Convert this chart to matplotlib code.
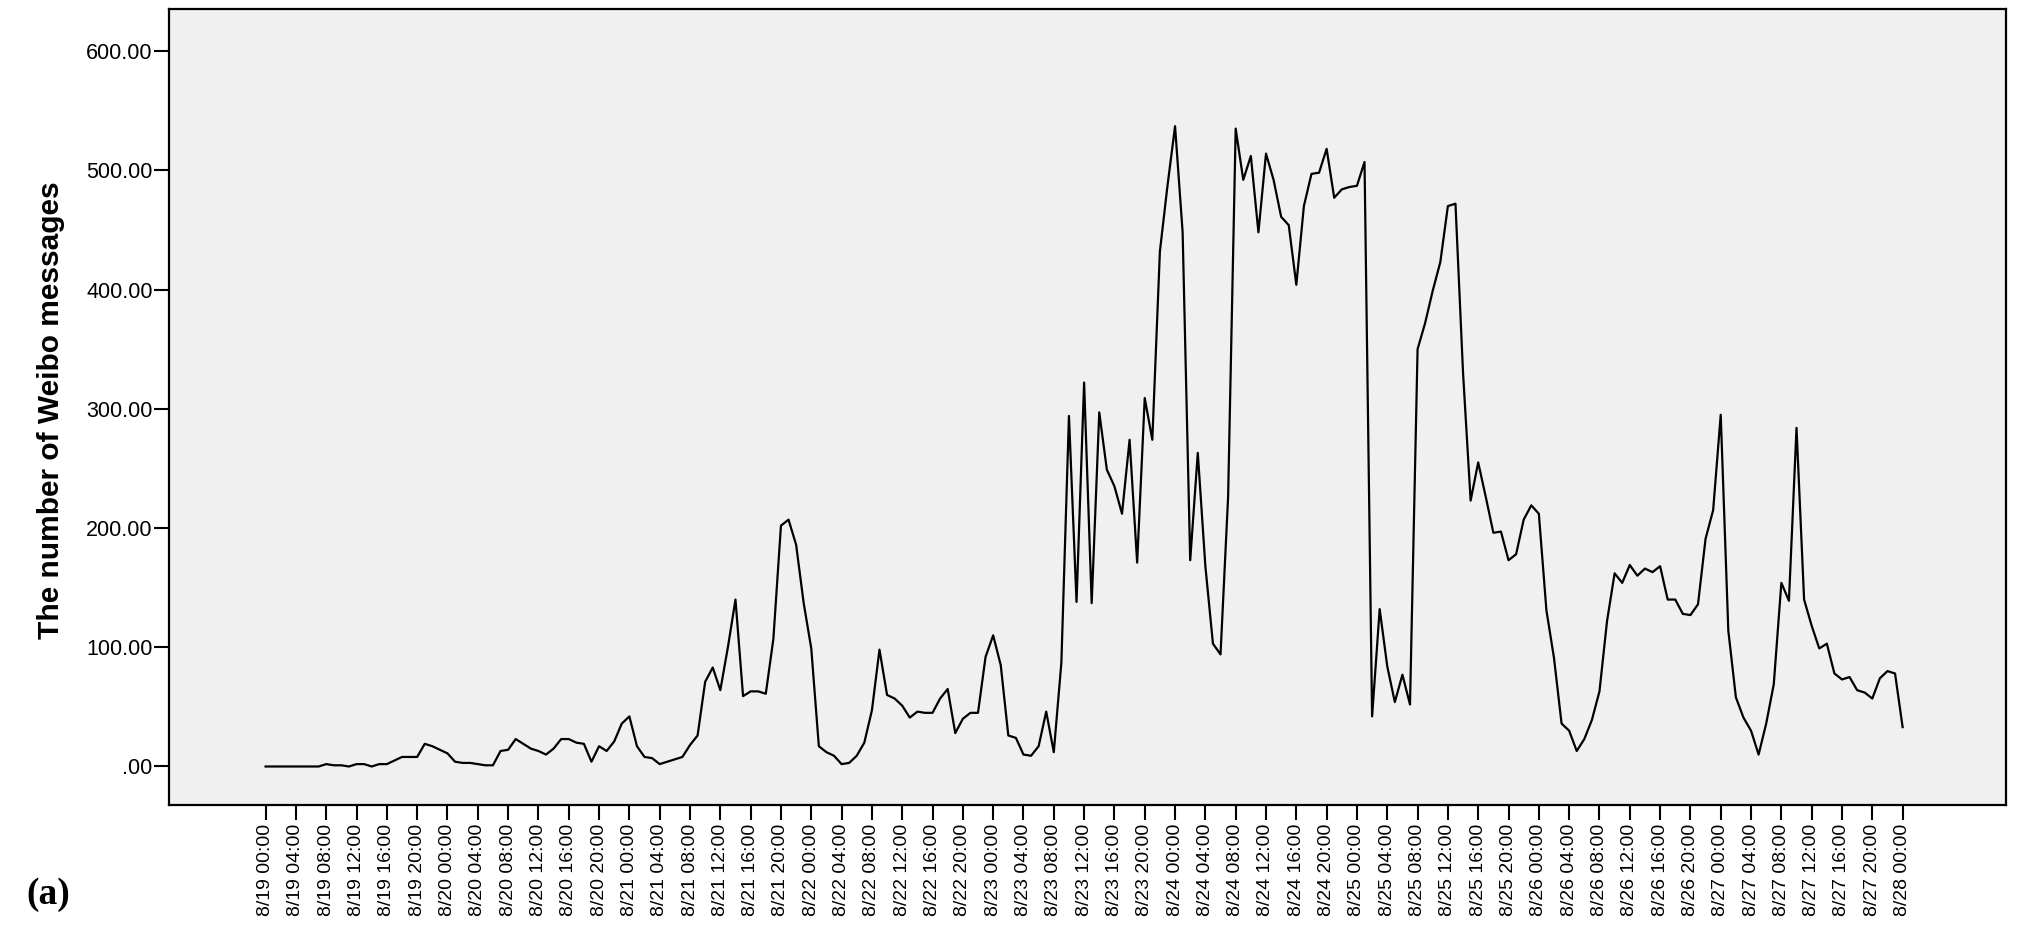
import numpy as np
import matplotlib
matplotlib.use('Agg')
import matplotlib.pyplot as plt

# hourly Weibo message counts, one list per day (00:00 .. 23:00)
aug19 = [0, 0, 0, 0, 0, 0, 0, 0, 2, 1, 1, 0, 2, 2, 0, 2, 2, 5, 8, 8, 8, 19, 17, 14]
aug20 = [11, 4, 3, 3, 2, 1, 1, 13, 14, 23, 19, 15, 13, 10, 15, 23, 23, 20, 19, 4, 17, 13, 21, 36]
aug21 = [42, 17, 8, 7, 2, 4, 6, 8, 18, 26, 71, 83, 64, 100, 140, 59, 63, 63, 61, 107, 202, 207, 186, 137]
aug22 = [99, 17, 12, 9, 2, 3, 9, 20, 47, 98, 60, 57, 51, 41, 46, 45, 45, 57, 65, 28, 40, 45, 45, 92]
aug23 = [110, 85, 26, 24, 10, 9, 17, 46, 12, 87, 294, 138, 322, 137, 297, 249, 235, 212, 274, 171, 309, 274, 432, 487]
aug24 = [537, 448, 173, 263, 168, 103, 94, 226, 535, 492, 512, 448, 514, 492, 461, 454, 404, 470, 497, 498, 518, 477, 484, 486]
aug25 = [487, 507, 42, 132, 84, 54, 77, 52, 350, 372, 399, 423, 470, 472, 330, 223, 255, 226, 196, 197, 173, 178, 207, 219]
aug26 = [212, 131, 91, 36, 30, 13, 23, 39, 63, 122, 162, 154, 169, 160, 166, 163, 168, 140, 140, 128, 127, 136, 191, 215]
aug27 = [295, 114, 58, 41, 30, 10, 36, 69, 154, 139, 284, 140, 118, 99, 103, 78, 73, 75, 64, 62, 57, 74, 80, 78]
aug28 = [33]

days = ['8/19', '8/20', '8/21', '8/22', '8/23', '8/24', '8/25', '8/26', '8/27', '8/28']
tick_hours = ['00:00', '04:00', '08:00', '12:00', '16:00', '20:00']
y_ticks = [0, 100, 200, 300, 400, 500, 600]
y_ticklabels = ['.00', '100.00', '200.00', '300.00', '400.00', '500.00', '600.00']

counts = np.array(aug19 + aug20 + aug21 + aug22 + aug23 + aug24 + aug25 + aug26 + aug27 + aug28)
hours = np.arange(len(counts))

x_labels = [d + ' ' + h for d in days[:-1] for h in tick_hours] + [days[-1] + ' 00:00']
x_ticks = np.arange(0, len(counts), 4)

fig = plt.figure(figsize=(20.28, 9.34), dpi=100)
ax = fig.add_axes([0.0835, 0.1376, 0.989 - 0.0835, 0.990 - 0.1376])
ax.set_facecolor('#f0f0f0')

ax.plot(hours, counts, color='black', lw=1.6)

ax.set_xlim(-12.7, 229.6)
ax.set_ylim(-32.7, 635)

ax.set_xticks(x_ticks)
ax.set_xticklabels(x_labels, rotation=90, fontsize=14, family='Liberation Sans')
ax.set_yticks(y_ticks)
ax.set_yticklabels(y_ticklabels, fontsize=15.5, family='Liberation Sans')
ax.tick_params(axis='both', direction='out', length=11, width=1.5, color='black')
ax.tick_params(axis='x', pad=2)
ax.tick_params(axis='y', pad=1)

for s in ax.spines.values():
    s.set_linewidth(1.6)
    s.set_color('black')

# y label placed in figure coords to sit where the original has it
fig.text(51 / 2028, 1 - 410 / 934, 'The number of Weibo messages', fontsize=21.5,
         fontweight='bold', family='Liberation Sans', rotation=90,
         ha='center', va='center')

fig.text(48 / 2028, 1 - 895 / 934, '(a)', fontsize=27, fontweight='bold',
         family='Liberation Serif', ha='center', va='center')

fig.savefig('out.png', dpi=100)
